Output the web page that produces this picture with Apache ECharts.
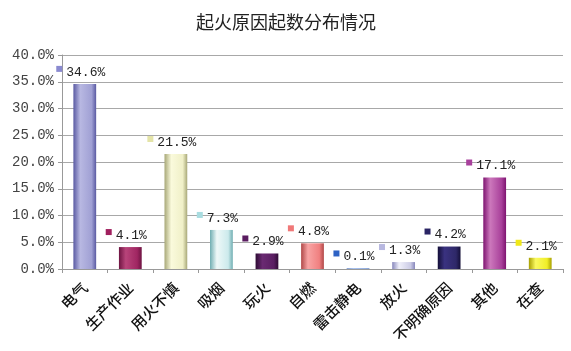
<!DOCTYPE html>
<html>
<head>
<meta charset="utf-8">
<script src="https://cdn.jsdelivr.net/npm/echarts@6/dist/echarts.min.js"></script>
<style>
  html, body { margin: 0; padding: 0; background: #fff; }
  #chart { width: 571px; height: 351px; }
</style>
</head>
<body>
<div id="chart"></div>
<script>
    // 起火原因及占比(%)
    var causes = ['电气', '生产作业', '用火不慎', '吸烟', '玩火', '自燃', '雷击静电', '放火', '不明确原因', '其他', '在查'];
    var shares = [34.6, 4.1, 21.5, 7.3, 2.9, 4.8, 0.1, 1.3, 4.2, 17.1, 2.1];
    var yTicks = [0, 5, 10, 15, 20, 25, 30, 35, 40];

    // 每根柱子的渐变色: [暗边, 亮色, 主色], 以及标签前的图例方块颜色
    var barShades = [
        ['#5a5aa2', '#b8b8e2', '#a0a0d4'],
        ['#6e1442', '#b8447a', '#a02662'],
        ['#a8a878', '#fafadc', '#f0f0c8'],
        ['#70aeb2', '#eef8f8', '#cceaec'],
        ['#2e0c34', '#6a2a72', '#5a1e62'],
        ['#b04848', '#f8a4a4', '#f08080'],
        ['#1e4ea8', '#5c8ce0', '#3a6cc8'],
        ['#8888bc', '#f0f0fa', '#ccccE6'],
        ['#140f38', '#3a3280', '#2e2868'],
        ['#7e1470', '#cc78bc', '#a8409a'],
        ['#a8a000', '#fafa60', '#f0ee28']
    ];
    var keyColors = ['#8a8ad0', '#a0205e', '#e4e4a8', '#a8dce0', '#5a1c60', '#f07878', '#2e62c4', '#b8b8e0', '#2a2464', '#a8409c', '#f0e818'];

    var chart = echarts.init(document.getElementById('chart'), null, { renderer: 'canvas' });

    var barData = shares.map(function (v, i) {
        var c = barShades[i];
        var rich = { txt: { fontFamily: 'Liberation Mono', fontSize: 13, color: '#222', padding: [0, 0, 0, 4] } };
        rich['k' + i] = { backgroundColor: keyColors[i], width: 6, height: 6, verticalAlign: 'top' };
        return {
            value: v,
            itemStyle: {
                color: new echarts.graphic.LinearGradient(0, 0, 1, 0, [
                    { offset: 0, color: c[0] },
                    { offset: 0.3, color: c[1] },
                    { offset: 0.8, color: c[2] },
                    { offset: 1, color: c[0] }
                ])
            },
            label: {
                formatter: '{k' + i + '|}{txt|' + v.toFixed(1) + '%}',
                rich: rich
            }
        };
    });

    chart.setOption({
        backgroundColor: '#fff',
        animation: false,
        title: {
            text: '起火原因起数分布情况',
            left: 281,
            top: 8,
            textAlign: 'center',
            textStyle: { fontFamily: 'Noto Sans CJK SC', fontSize: 18, fontWeight: 'normal', color: '#222' }
        },
        grid: { left: 62, right: 8, top: 55, bottom: 82, containLabel: false },
        xAxis: {
            type: 'category',
            data: causes,
            axisLine: { lineStyle: { color: '#999' } },
            axisTick: { show: true, alignWithLabel: false, length: 4, lineStyle: { color: '#999' } },
            axisLabel: {
                rotate: 45,
                interval: 0,
                margin: 16,
                fontFamily: 'Noto Sans CJK SC',
                fontSize: 15,
                fontWeight: 500,
                color: '#111'
            }
        },
        yAxis: {
            type: 'value',
            min: yTicks[0],
            max: yTicks[yTicks.length - 1],
            interval: 5,
            axisLine: { show: true, lineStyle: { color: '#999' } },
            axisTick: { show: true, length: 4, lineStyle: { color: '#999' } },
            splitLine: { lineStyle: { color: '#a8a8a8' } },
            axisLabel: {
                margin: 8,
                fontFamily: 'Liberation Mono',
                fontSize: 14,
                color: '#444',
                formatter: function (v) { return v.toFixed(1) + '%'; }
            }
        },
        series: [{
            type: 'bar',
            data: barData,
            barWidth: '50%',
            label: {
                show: true,
                position: 'top',
                distance: 5,
                offset: [-4, 0]
            }
        }]
    });
</script>
</body>
</html>
